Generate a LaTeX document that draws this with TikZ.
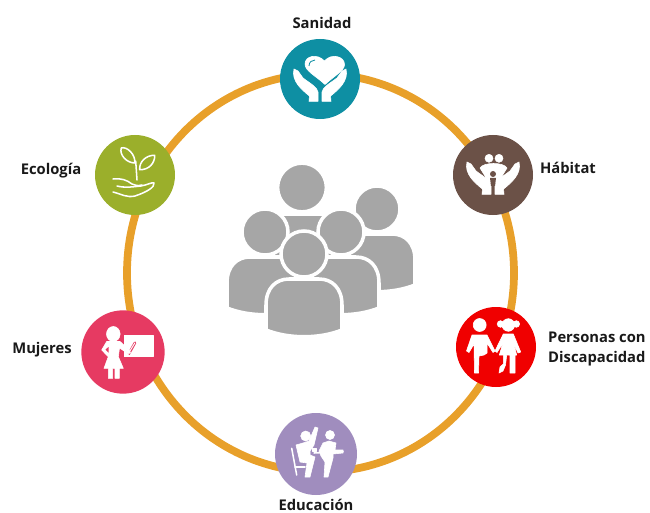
\documentclass[tikz,border=0pt]{standalone}
\usepackage{fontspec}
\setmainfont{Open Sans}
\definecolor{ringcol}{HTML}{E8A02A}
\definecolor{crowdcol}{HTML}{A6A6A6}
\definecolor{sanidadcol}{HTML}{0E8FA3}
\definecolor{habitatcol}{HTML}{6B5147}
\definecolor{personascol}{HTML}{F00000}
\definecolor{educacioncol}{HTML}{A08DBE}
\definecolor{mujerescol}{HTML}{E63A62}
\definecolor{ecologiacol}{HTML}{9BAF2B}
\tikzset{
	hub/.style={circle,inner sep=0pt,minimum size=2.4cm},
	lbl/.style={font=\fontsize{12.6}{17}\selectfont\bfseries,text=black!90,inner sep=0pt,align=left},
	ink/.style={fill=white,draw=white,line width=.5pt,line join=round},
	thread/.style={draw=white,line width=1.3pt,line cap=round,line join=round},
	person/.pic={
		\path[fill=crowdcol,draw=white,line width=3pt] (-38,51) -- (-38,26) .. controls (-38,9) and (-28,0) .. (-15,0) -- (15,0) .. controls (28,0) and (38,9) .. (38,26) -- (38,51) .. controls (15,60) and (-15,60) .. (-38,51) -- cycle;
		\path[fill=crowdcol,draw=white,line width=3pt] (0,-25) circle [radius=23];
	},
	hands/.pic={
		\foreach \s in {1,-1}
			\path[ink,xscale=\s] (-26,-10) .. controls (-29,2) and (-18,11) .. (-10.5,17) -- (-11,22.3) -- (-2,22.3) -- (-2,13) .. controls (-3,8) and (-9,5) .. (-17,-1) -- (-22,-8) -- cycle;
	},
}
\begin{document}
\begin{tikzpicture}[x=0.03cm,y=-0.03cm]
	\useasboundingbox (0,0) rectangle (650,513);
	\draw[ringcol,line width=6.6pt] (320.5,273) ellipse [x radius=193.5,y radius=199];

	\node[hub,fill=sanidadcol] (sanidad) at (320,79) {};
	\node[hub,fill=habitatcol] (habitat) at (493,175) {};
	\node[hub,fill=personascol] (personas) at (496,347) {};
	\node[hub,fill=educacioncol,minimum size=2.46cm] (educacion) at (316,454) {};
	\node[hub,fill=mujerescol,minimum size=2.5cm] (mujeres) at (123,352) {};
	\node[hub,fill=ecologiacol] (ecologia) at (135,175) {};

	\node[lbl] (sanidadtxt) at (322,23) {Sanidad};
	\node[lbl] (habitattxt) at (568,168) {Hábitat};
	\node[lbl,anchor=west] (personastxt) at (548,349) {Personas con\\Discapacidad};
	\node[lbl] (educaciontxt) at (316,504.5) {Educación};
	\node[lbl] (mujerestxt) at (42,350) {Mujeres};
	\node[lbl] (ecologiatxt) at (51,171) {Ecología};

	\pic[scale=1.06] at (302,214) {person};
	\pic at (377,234) {person};
	\pic at (265,257) {person};
	\pic at (341,257) {person};
	\pic at (304,279) {person};

	\begin{scope}[shift={(sanidad)}]
		\pic at (0,0) {hands};
		\path[ink] (5,5.5) .. controls (-4,-3) and (-15,-8) .. (-15,-15) .. controls (-15,-23) and (-3,-26) .. (4.5,-18) .. controls (11,-26) and (25,-23) .. (24.5,-14) .. controls (24,-8) and (14,-3) .. (5,5.5) -- cycle;
		\draw[sanidadcol,line width=.7pt] (-11,-13) .. controls (-11,-17) and (-8,-19) .. (-5,-19);
	\end{scope}

	\begin{scope}[shift={(habitat)}]
		\pic at (0,-3) {hands};
		\path[ink] (-4,-16.7) circle [radius=4];
		\path[ink] (6,-16.7) circle [radius=4];
		\path[ink] (-13,-7) .. controls (-10,-13) and (11,-13) .. (14,-7) -- (9,1) -- (8,8) -- (-7,8) -- (-8,1) -- cycle;
		\fill[habitatcol] (0,-1) circle [radius=3];
		\fill[habitatcol] (-3,3) -- (3,3) -- (2,11) -- (-2,11) -- cycle;
	\end{scope}

	\begin{scope}[shift={(personas)}]
		\path[ink] (-16.3,-22) circle [radius=6.5];
		\path[ink] (-24,-12) -- (-9,-12) -- (-1,4) -- (-3,5.5) -- (-9,-4) -- (-9,6) -- (-12,8) -- (-17,9) -- (-17.5,26) -- (-21.5,26) -- (-22,-3) -- (-27,5.5) -- (-29.5,4) -- cycle;
		\path[ink] (12.3,-22) circle [radius=6.3];
		\path[ink] (4.5,-23) circle [radius=3.3];
		\path[ink] (20.3,-23) circle [radius=3.3];
		\path[ink] (7.3,-13) -- (17.3,-13) -- (24.7,5) -- (22,6) -- (17.5,-4) -- (20.7,8) -- (19,8) -- (19,26) -- (14,26) -- (14,8) -- (10.7,8) -- (9.5,18) -- (7,24) -- (3,26) -- (4,20) -- (7.3,17) -- (7.3,8) -- (3.3,8) -- (7,-4) -- (1,5.5) -- (-1,4) -- cycle;
	\end{scope}

	\begin{scope}[shift={(educacion)}]
		\path[ink] (-10.3,-18) circle [radius=5];
		\path[ink] (-20,-9) -- (-13,-11) -- (-7,-13) -- (-1,-27) -- (2,-26) -- (-2,-9) -- (-6,-3) -- (-6,1) -- (-1,3) -- (-2,7) -- (-6,23) -- (-11,23) -- (-9,9) -- (-16,8) -- cycle;
		\draw[thread] (-24.3,-5.7) -- (-19.3,21);
		\draw[thread] (-21,13) -- (-11,13);
		\path[ink] (14,-19) circle [radius=4.5];
		\path[ink] (7,-11) -- (13,-13) -- (20,-11) -- (19,-4) -- (27,-4) -- (27,-1) -- (17,0) -- (17,4) -- (12,23) -- (8,23) -- (9,8) -- (5,2) -- (3,-3) -- cycle;
		\draw[thread] (-2,-1) -- (27,-2.5);
		\path[ink] (-4,-6) rectangle (0,-3);
	\end{scope}

	\begin{scope}[shift={(mujeres)}]
		\path[ink] (1.3,-17) rectangle (30.3,4.7);
		\draw[mujerescol,line width=2.2pt,line cap=round] (12,-9.3) -- (6.3,1) -- (-3,-8);
		\path[ink] (-9.7,-18) ellipse [x radius=6.8,y radius=7.5];
		\path[ink] (-16.3,-10.5) -- (-3,-10.5) -- (6.3,-2) -- (7.5,1) -- (5,1.5) -- (-3.5,-4) -- (-4.7,4.7) -- (0.3,16.3) -- (-3.7,16.3) -- (-3.7,26.3) -- (-8,26.3) -- (-8,16.3) -- (-10.3,16.3) -- (-10.3,26.3) -- (-14.7,26.3) -- (-14.7,16.3) -- (-19,16.3) -- (-14.7,4.7) -- (-21.3,-2) -- cycle;
		\draw[white,line width=.8pt] (6.3,0) -- (12,-9.3);
		\path[fill=mujerescol] (-17.5,-2.5) -- (-14.5,0.5) -- (-14.5,-5) -- cycle;
	\end{scope}

	\begin{scope}[shift={(ecologia)}]
		\draw[thread] (-13.7,-27) .. controls (-8,-29) and (1,-20) .. (-0.3,-12) .. controls (-8,-12) and (-16,-20) .. (-13.7,-27) -- cycle;
		\draw[thread] (19.7,-19.7) .. controls (20,-12) and (14,-5) .. (4.7,-5.3) .. controls (4,-13) and (11,-20) .. (19.7,-19.7) -- cycle;
		\draw[thread] (0.7,-14) -- (2,5);
		\draw[thread] (-22,4) .. controls (-14,3) and (-8,5) .. (-3,9) .. controls (2,11) and (5,11) .. (7,10);
		\draw[thread] (-18,11) .. controls (-10,13) and (-4,12) .. (6,11) .. controls (12,10) and (17,7) .. (19,8) .. controls (20,12) and (12,17) .. (0,21) .. controls (-8,23) and (-14,19) .. (-22,17);
	\end{scope}
\end{tikzpicture}
\end{document}
